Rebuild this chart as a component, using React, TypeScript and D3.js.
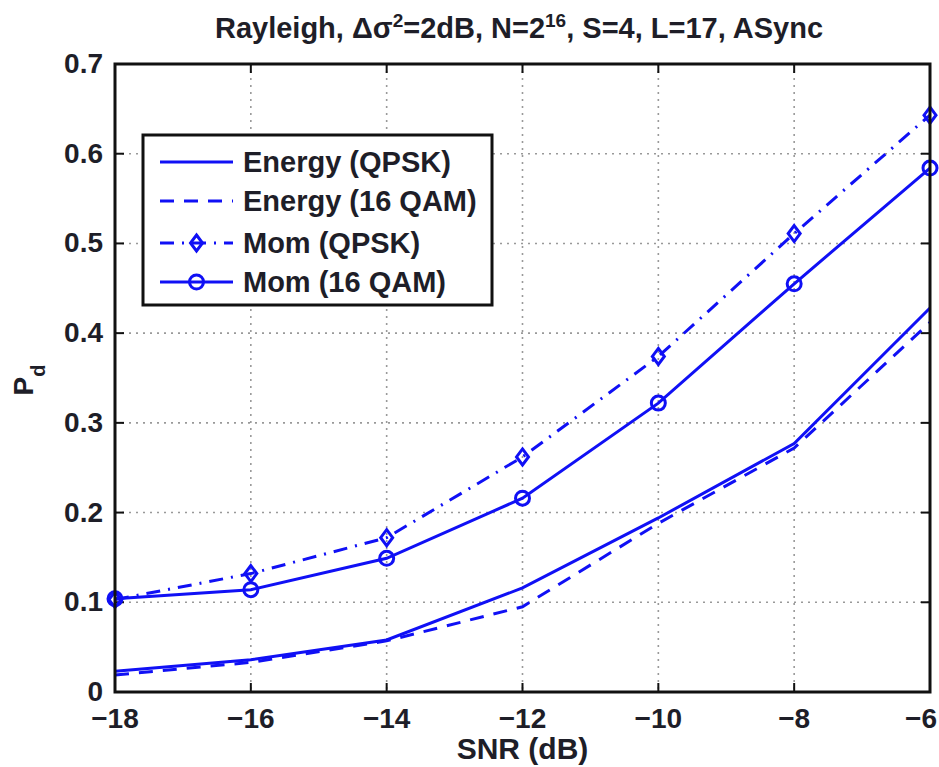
import React from "react";
import * as d3 from "d3";

const snr = [-18, -16, -14, -12, -10, -8, -6];
const energyQPSK = [0.023, 0.036, 0.058, 0.116, 0.194, 0.277, 0.428];
const energy16QAM = [0.019, 0.033, 0.057, 0.095, 0.188, 0.272, 0.412];
const momQPSK = [0.103, 0.132, 0.172, 0.262, 0.374, 0.511, 0.643];
const mom16QAM = [0.104, 0.114, 0.149, 0.216, 0.322, 0.455, 0.584];
const xTicks = [-18, -16, -14, -12, -10, -8, -6];
const yTicks = [0, 0.1, 0.2, 0.3, 0.4, 0.5, 0.6, 0.7];

const seriesNames = ["Energy (QPSK)", "Energy (16 QAM)", "Mom (QPSK)", "Mom (16 QAM)"];
const seriesValues = [energyQPSK, energy16QAM, momQPSK, mom16QAM];
const seriesDash = ["", "14,10", "14,8,2,8", ""];
const seriesMarker = ["none", "none", "diamond", "circle"];

const BLUE = "#1010f5";
const FONT = "'Liberation Sans', Arial, sans-serif";
const TXT = "#1e1e28";

export default function App() {
  const W = 939, H = 767;
  const left = 115, right = 930, top = 64, bottom = 692;
  const x = d3.scaleLinear().domain([-18, -6]).range([left, right]);
  const y = d3.scaleLinear().domain([0, 0.7]).range([bottom, top]);
  const line = d3.line<number>().x((_, i) => x(snr[i])).y((v) => y(v));

  const marker = (type: string, cx: number, cy: number, key: string) => {
    if (type === "diamond") {
      const s = 8;
      return <path key={key} d={`M${cx},${cy - s}L${cx + s * 0.75},${cy}L${cx},${cy + s}L${cx - s * 0.75},${cy}Z`} fill="none" stroke={BLUE} strokeWidth={3} />;
    }
    if (type === "circle") {
      return <circle key={key} cx={cx} cy={cy} r={7} fill="none" stroke={BLUE} strokeWidth={3} />;
    }
    return null;
  };

  const legX = 143, legY = 135, legW = 349, legH = 170;
  const rowYs = [162, 201, 243, 282];
  const fs = 28;

  return (
    <svg width={W} height={H} style={{ position: "absolute", left: 0, top: 0, background: "#fff" }} fontFamily={FONT}>
      <rect width={W} height={H} fill="#fff" />
      {/* grid */}
      {xTicks.slice(1, -1).map((t) => (
        <line key={"gx" + t} x1={x(t)} x2={x(t)} y1={top} y2={bottom} stroke="#999" strokeWidth={1.6} strokeDasharray="2,5" />
      ))}
      {yTicks.slice(1, -1).map((t) => (
        <line key={"gy" + t} x1={left} x2={right} y1={y(t)} y2={y(t)} stroke="#999" strokeWidth={1.6} strokeDasharray="2,5" />
      ))}
      {/* ticks */}
      {xTicks.map((t, i) => (
        <g key={"tx" + t}>
          <line x1={x(t)} x2={x(t)} y1={bottom} y2={bottom - 9} stroke="#111" strokeWidth={2} />
          <line x1={x(t)} x2={x(t)} y1={top} y2={top + 9} stroke="#111" strokeWidth={2} />
          <text x={i === xTicks.length - 1 ? 937 : x(t)} y={bottom + 36} textAnchor={i === xTicks.length - 1 ? "end" : "middle"} fontSize={fs} fontWeight="bold" fill={TXT}>{t < 0 ? "\u2212" + Math.abs(t) : t}</text>
        </g>
      ))}
      {yTicks.map((t) => (
        <g key={"ty" + t}>
          <line x1={left} x2={left + 9} y1={y(t)} y2={y(t)} stroke="#111" strokeWidth={2} />
          <line x1={right} x2={right - 9} y1={y(t)} y2={y(t)} stroke="#111" strokeWidth={2} />
          <text x={left - 12} y={y(t) + 9} textAnchor="end" fontSize={fs} fontWeight="bold" fill={TXT}>{t === 0 ? "0" : t.toFixed(1)}</text>
        </g>
      ))}
      {/* series */}
      {seriesValues.map((vals, si) => (
        <g key={"s" + si}>
          <path d={line(vals) || ""} fill="none" stroke={BLUE} strokeWidth={3} strokeDasharray={seriesDash[si] || undefined} />
          {vals.map((v, i) => marker(seriesMarker[si], x(snr[i]), y(v), `m${si}-${i}`))}
        </g>
      ))}
      {/* axes box */}
      <rect x={left} y={top} width={right - left} height={bottom - top} fill="none" stroke="#111" strokeWidth={3} />
      {/* legend */}
      <rect x={legX} y={legY} width={legW} height={legH} fill="#fff" stroke="#111" strokeWidth={3} />
      {seriesNames.map((n, i) => (
        <g key={"l" + i}>
          <line x1={160} x2={233} y1={rowYs[i]} y2={rowYs[i]} stroke={BLUE} strokeWidth={3} strokeDasharray={seriesDash[i] || undefined} />
          {marker(seriesMarker[i], 196.5, rowYs[i], "lm" + i)}
          <text x={243} y={rowYs[i] + 10} fontSize={29} fontWeight="bold" fill={TXT}>{n}</text>
        </g>
      ))}
      {/* title */}
      <text x={519} y={38} textAnchor="middle" fontSize={29} fontWeight="bold" fill={TXT}>
        Rayleigh, Δσ<tspan dy={-11} fontSize={19}>2</tspan><tspan dy={11}>=2dB, N=2</tspan><tspan dy={-11} fontSize={19}>16</tspan><tspan dy={11}>, S=4, L=17, ASync</tspan>
      </text>
      {/* axis labels */}
      <text x={(left + right) / 2} y={759} textAnchor="middle" fontSize={30} fontWeight="bold" fill={TXT}>SNR (dB)</text>
      <text transform={`translate(33,380) rotate(-90)`} textAnchor="middle" fontSize={fs} fontWeight="bold" fill={TXT}>
        P<tspan dy={12} fontSize={20}>d</tspan>
      </text>
    </svg>
  );
}
